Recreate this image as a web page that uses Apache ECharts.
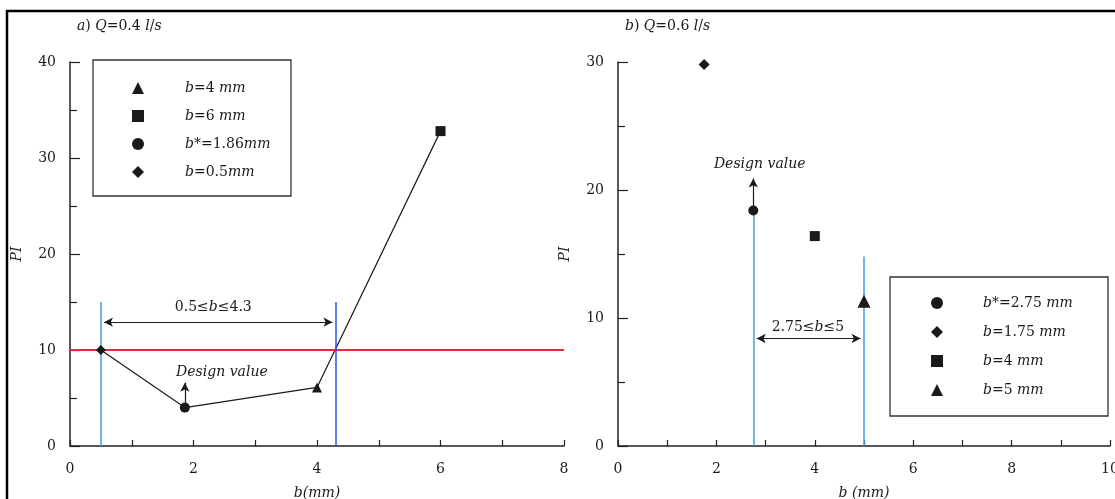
<!DOCTYPE html>
<html>
<head>
<meta charset="utf-8">
<script src="https://cdn.jsdelivr.net/npm/echarts@6/dist/echarts.min.js"></script>
<style>
  html, body { margin: 0; padding: 0; background: #fff; }
  #chart { width: 1115px; height: 499px; }
</style>
</head>
<body>
<div id="chart"></div>
<script>
// ---- a) Q = 0.4 l/s ----
const widthsA = [4, 6, 1.86, 0.5];                 // b (mm)
const piA     = [6.1, 32.8, 4.0, 10.0];            // PI
const namesA  = ['b=4 mm', 'b=6 mm', 'b*=1.86mm', 'b=0.5mm'];
const xTicksA = [0, 2, 4, 6, 8];
const yTicksA = [0, 10, 20, 30, 40];
const thresholdA = 10;
const rangeA = [0.5, 4.3];

// ---- b) Q = 0.6 l/s ----
const widthsB = [2.75, 1.75, 4, 5];
const piB     = [18.4, 29.8, 16.4, 11.3];
const namesB  = ['b*=2.75 mm', 'b=1.75 mm', 'b=4 mm', 'b=5 mm'];
const xTicksB = [0, 2, 4, 6, 8, 10];
const yTicksB = [0, 10, 20, 30];
const rangeB = [2.75, 5];

const titleA = 'a) Q=0.4 l/s';
const titleB = 'b) Q=0.6 l/s';

// marker shapes / sizes per point
const symA = ['triangle', 'rect', 'circle', 'diamond'];
const sizeA = [10, 10, 10, 10];
const symB = ['circle', 'diamond', 'rect', 'triangle'];
const sizeB = [10, 11, 10, 13];

const SERIF = '"DejaVu Serif", "Liberation Serif", serif';
const FS = 14;
const INK = '#1a1a1a';

// letters in italics, everything else upright
function ital(s) {
  return s.split(/([A-Za-z]+)/).filter(t => t.length)
    .map(t => /[A-Za-z]/.test(t) ? '{i|' + t + '}' : '{n|' + t + '}').join('');
}
function rich(size) {
  return {
    i: { fontFamily: SERIF, fontStyle: 'italic', fontWeight: 'normal', fontSize: size, color: INK },
    n: { fontFamily: SERIF, fontStyle: 'normal', fontWeight: 'normal', fontSize: size, color: INK }
  };
}

function xAxis(gridIndex, ticks, name) {
  return {
    type: 'value', gridIndex,
    min: ticks[0], max: ticks[ticks.length - 1], interval: ticks[1] - ticks[0],
    name, nameLocation: 'middle', nameGap: 40,
    nameTextStyle: { fontFamily: SERIF, fontStyle: 'italic', fontSize: FS, color: INK },
    axisLine: { show: true, onZero: false, lineStyle: { color: '#222', width: 1.5 } },
    axisTick: { show: true, inside: true, length: 6, lineStyle: { color: '#222', width: 1.2 } },
    minorTick: { show: true, splitNumber: 2, length: 6, lineStyle: { color: '#222', width: 1.2 } },
    axisLabel: { margin: 16, fontFamily: SERIF, fontSize: FS, color: INK },
    splitLine: { show: false }, minorSplitLine: { show: false }
  };
}
function yAxis(gridIndex, ticks) {
  return {
    type: 'value', gridIndex,
    min: ticks[0], max: ticks[ticks.length - 1], interval: ticks[1] - ticks[0],
    name: 'PI', nameLocation: 'middle', nameGap: 46,
    nameTextStyle: { fontFamily: SERIF, fontStyle: 'italic', fontSize: FS, color: INK },
    axisLine: { show: true, onZero: false, lineStyle: { color: '#222', width: 1.5 } },
    axisTick: { show: true, inside: true, length: 10, lineStyle: { color: '#222', width: 1.2 } },
    minorTick: { show: true, splitNumber: 2, length: 7, lineStyle: { color: '#222', width: 1.2 } },
    axisLabel: { margin: 14, fontFamily: SERIF, fontSize: FS, color: INK },
    splitLine: { show: false }, minorSplitLine: { show: false }
  };
}

function pointSeries(prefix, idx, widths, pis, names, syms, sizes) {
  return widths.map((b, i) => ({
    type: 'scatter', name: prefix + '|' + names[i],
    xAxisIndex: idx, yAxisIndex: idx,
    data: [[b, pis[i]]],
    symbol: syms[i], symbolSize: sizes[i],
    itemStyle: { color: INK, opacity: 1 },
    z: 10, silent: true
  }));
}

function legend(prefix, names, left, top, gap, textShift) {
  return {
    orient: 'vertical', left, top, padding: 0,
    itemWidth: 12, itemHeight: 12, itemGap: gap,
    selectedMode: false,
    data: names.map(n => prefix + '|' + n),
    formatter: name => ital(name.split('|')[1]),
    textStyle: { rich: rich(FS), lineHeight: 16, padding: [0, 0, 0, textShift] }
  };
}

const lineStyleOf = (color, width) => ({ color, width, type: 'solid' });
function seg(p, q, style, sym0, sym1) {
  return [
    { coord: p, symbol: sym0 || 'none', lineStyle: style },
    { coord: q, symbol: sym1 || 'none' }
  ];
}

// text notes placed in data coordinates, plus guide lines and arrows
function noteSeries(idx, notes, lines) {
  return {
    type: 'scatter', xAxisIndex: idx, yAxisIndex: idx,
    symbolSize: 0, silent: true, z: 2,
    data: notes.map(n => ({ name: n.text, value: n.at })),
    label: {
      show: true, position: 'inside', color: INK, textBorderWidth: 0, opacity: 1,
      formatter: p => p.name === 'Design value' ? '{i|' + p.name + '}' : ital(p.name),
      rich: rich(FS)
    },
    markLine: {
      silent: true, animation: false,
      symbol: ['none', 'none'], symbolSize: [7, 9],
      label: { show: false },
      emphasis: { disabled: true },
      data: lines
    }
  };
}

// sorted points for the connecting polyline in panel a)
const orderA = widthsA.map((b, i) => i).sort((i, j) => widthsA[i] - widthsA[j]);
const pathA = orderA.map(i => [widthsA[i], piA[i]]);

const iDesignA = namesA.findIndex(n => n.includes('*'));
const iDesignB = namesB.findIndex(n => n.includes('*'));
const designA = [widthsA[iDesignA], piA[iDesignA]];
const designB = [widthsB[iDesignB], piB[iDesignB]];

const blueLight = '#4fa3e6';
const blueDeep = '#2255ee';

const option = {
  animation: false,
  backgroundColor: '#fff',
  title: [
    { text: ital(titleA), left: 77, top: 19, padding: 0, textStyle: { rich: rich(FS), fontWeight: 'normal' } },
    { text: ital(titleB), left: 625, top: 19, padding: 0, textStyle: { rich: rich(FS), fontWeight: 'normal' } }
  ],
  grid: [
    { left: 70, top: 62, width: 494, height: 384, outerBoundsMode: 'none', containLabel: false },
    { left: 618, top: 62, width: 492, height: 384, outerBoundsMode: 'none', containLabel: false }
  ],
  xAxis: [xAxis(0, xTicksA, 'b(mm)'), xAxis(1, xTicksB, 'b (mm)')],
  yAxis: [yAxis(0, yTicksA), yAxis(1, yTicksB)],
  legend: [legend('a', namesA, 132, 80, 12, 36), legend('b', namesB, 931, 295, 13, 35)],
  graphic: [
    { type: 'rect', silent: true, z: 100, shape: { x: 93, y: 60, width: 198, height: 136 },
      style: { fill: 'none', stroke: '#333', lineWidth: 1.3 } },
    { type: 'rect', silent: true, z: 100, shape: { x: 890, y: 277, width: 218, height: 139 },
      style: { fill: 'none', stroke: '#333', lineWidth: 1.3 } },
    { type: 'rect', silent: true, z: 100, shape: { x: 7, y: 11, width: 1140, height: 520 },
      style: { fill: 'none', stroke: '#000', lineWidth: 2.5 } }
  ],
  series: [
    {
      type: 'line', xAxisIndex: 0, yAxisIndex: 0, data: pathA,
      symbol: 'none', silent: true, z: 4,
      lineStyle: { color: INK, width: 1.2 }
    },
    ...pointSeries('a', 0, widthsA, piA, namesA, symA, sizeA),
    noteSeries(0, [
      { text: 'Design value', at: [2.46, 7.7] },
      { text: rangeA[0] + '≤b≤' + rangeA[1], at: [2.32, 14.4] }
    ], [
      seg([xTicksA[0], thresholdA], [xTicksA[xTicksA.length - 1], thresholdA], lineStyleOf('#e8283c', 2)),
      seg([rangeA[0], 0], [rangeA[0], 15], lineStyleOf(blueLight, 1.6)),
      seg([rangeA[1], 0], [rangeA[1], 15], lineStyleOf(blueDeep, 1.5)),
      seg([rangeA[0] + 0.05, 12.9], [rangeA[1] - 0.05, 12.9], lineStyleOf(INK, 1), 'arrow', 'arrow'),
      seg([designA[0], designA[1] + 0.5], [designA[0], 6.6], lineStyleOf(INK, 1.2), 'none', 'arrow')
    ]),
    ...pointSeries('b', 1, widthsB, piB, namesB, symB, sizeB),
    noteSeries(1, [
      { text: 'Design value', at: [2.88, 22] },
      { text: rangeB[0] + '≤b≤' + rangeB[1], at: [3.86, 9.3] }
    ], [
      seg([rangeB[0], 0], [rangeB[0], designB[1]], lineStyleOf(blueLight, 1.6)),
      seg([rangeB[1], 0], [rangeB[1], 14.8], lineStyleOf(blueLight, 1.6)),
      seg([rangeB[0] + 0.07, 8.4], [rangeB[1] - 0.07, 8.4], lineStyleOf(INK, 1), 'arrow', 'arrow'),
      seg([designB[0], designB[1]], [designB[0], 20.9], lineStyleOf(INK, 1.2), 'none', 'arrow')
    ])
  ]
};

const chart = echarts.init(document.getElementById('chart'), null, { renderer: 'canvas' });
chart.setOption(option);
</script>
</body>
</html>
